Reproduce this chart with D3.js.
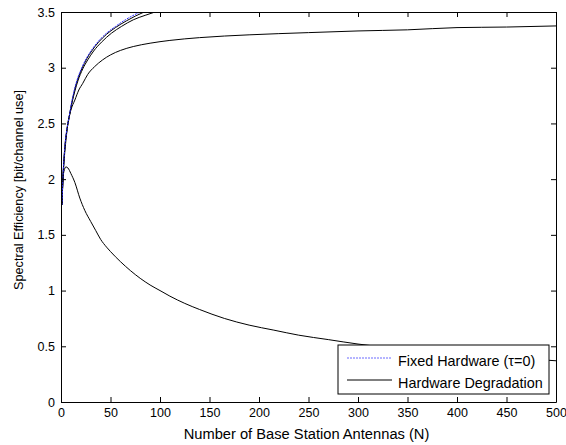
<!DOCTYPE html>
<html>
<head>
<meta charset="utf-8">
<script src="https://cdn.jsdelivr.net/npm/d3@7"></script>
<style>
  body { margin: 0; background: #fff; }
  text { font-family: "Liberation Sans", Arial, sans-serif; }
</style>
</head>
<body>
<div id="chart"></div>
<script>
// values
var xTicks = [0, 50, 100, 150, 200, 250, 300, 350, 400, 450, 500];
var yTicks = [0, 0.5, 1, 1.5, 2, 2.5, 3, 3.5];

// fixed hardware (tau = 0)
var fixedN =   [1, 2, 3, 4, 6, 8, 11, 14, 17, 21, 26, 31, 38, 46, 55, 65, 80, 100, 130];
var fixedSE =  [1.77, 2.02, 2.18, 2.3, 2.45, 2.55, 2.7, 2.82, 2.91, 3.0, 3.09, 3.16, 3.24, 3.31, 3.37, 3.43, 3.5, 3.57, 3.66];

// hardware degradation, several settings
var deg1N =  [1, 2, 3, 4, 6, 8, 11, 14, 17, 21, 26, 31, 38, 46, 55, 66, 84, 105, 130];
var deg1SE = [1.77, 2.02, 2.18, 2.3, 2.45, 2.55, 2.69, 2.81, 2.9, 2.99, 3.08, 3.15, 3.23, 3.3, 3.36, 3.42, 3.5, 3.56, 3.62];

var deg2N =  [1, 2, 3, 4, 6, 8, 11, 14, 17, 22, 27, 33, 41, 51, 61, 73, 85, 95, 120];
var deg2SE = [1.77, 2.02, 2.17, 2.29, 2.44, 2.54, 2.68, 2.79, 2.88, 2.99, 3.07, 3.15, 3.23, 3.31, 3.37, 3.43, 3.47, 3.5, 3.56];

var deg3N =  [1, 2, 3, 4, 5, 7, 10, 14, 18, 22, 27, 34, 42, 50, 60, 73, 90, 110, 140, 190, 250, 300, 350, 400, 450, 500];
var deg3SE = [1.77, 2.0, 2.15, 2.26, 2.35, 2.5, 2.62, 2.71, 2.8, 2.86, 2.94, 3.01, 3.07, 3.115, 3.155, 3.19, 3.22, 3.245, 3.27, 3.295, 3.315, 3.33, 3.34, 3.36, 3.365, 3.375];

var deg4N =  [1, 2, 3, 5, 7, 10, 14, 19, 24, 30, 35, 40, 46, 50, 60, 70, 80, 90, 100, 110, 125, 140, 165, 190, 215, 240, 270, 300, 350, 400, 450, 500];
var deg4SE = [1.77, 2.0, 2.07, 2.11, 2.1, 2.05, 1.97, 1.83, 1.72, 1.62, 1.54, 1.46, 1.39, 1.35, 1.26, 1.18, 1.11, 1.05, 1.0, 0.95, 0.885, 0.83, 0.75, 0.69, 0.645, 0.6, 0.56, 0.52, 0.47, 0.43, 0.4, 0.37];

var legendLabels = ["Fixed Hardware (\u03c4=0)", "Hardware Degradation"];

var margin = { top: 12, right: 10, bottom: 43, left: 61 },
  width = 566 - margin.left - margin.right,
  height = 445 - margin.top - margin.bottom;

var svg = d3.select("#chart")
  .append("svg")
  .attr("width", 566)
  .attr("height", 445)
  .append("g")
  .attr("transform", "translate(" + margin.left + "," + margin.top + ")");

var x = d3.scaleLinear().domain([0, 500]).range([0, width]);
var y = d3.scaleLinear().domain([0, 3.5]).range([height, 0]);

svg.append("defs").append("clipPath").attr("id", "clip")
  .append("rect").attr("width", width).attr("height", height);

function zip(ns, vs) {
  return ns.map(function (n, i) { return [n, vs[i]]; });
}

var line = d3.line()
  .x(function (d) { return x(d[0]); })
  .y(function (d) { return y(d[1]); })
  .curve(d3.curveMonotoneX);

var curves = svg.append("g").attr("clip-path", "url(#clip)");

[deg1N, deg2N, deg3N, deg4N].forEach(function (ns, i) {
  var vs = [deg1SE, deg2SE, deg3SE, deg4SE][i];
  curves.append("path")
    .datum(zip(ns, vs))
    .attr("d", line)
    .attr("fill", "none")
    .attr("stroke", "#000")
    .attr("stroke-width", 1);
});

curves.append("path")
  .datum(zip(fixedN, fixedSE))
  .attr("d", line)
  .attr("fill", "none")
  .attr("stroke", "#2a2aff")
  .attr("stroke-width", 1)
  .attr("stroke-dasharray", "2,1");

// axes, matlab style: ticks inward on all four sides
function styleAxis(g) {
  g.selectAll(".domain").attr("stroke", "#000");
  g.selectAll(".tick line").attr("stroke", "#000");
  g.selectAll("text").attr("font-size", "12.5px").attr("fill", "#000")
    .attr("font-family", "'Liberation Sans', Arial, sans-serif");
}

svg.append("g")
  .attr("transform", "translate(0," + height + ")")
  .call(d3.axisBottom(x).tickValues(xTicks).tickSizeInner(-5).tickSizeOuter(0).tickPadding(6)
    .tickFormat(function (d) { return d; }))
  .call(styleAxis);

svg.append("g")
  .call(d3.axisTop(x).tickValues(xTicks).tickSizeInner(-5).tickSizeOuter(0).tickFormat(""))
  .call(styleAxis);

svg.append("g")
  .call(d3.axisLeft(y).tickValues(yTicks).tickSizeInner(-5).tickSizeOuter(0).tickPadding(6)
    .tickFormat(function (d) { return d; }))
  .call(styleAxis);

svg.append("g")
  .attr("transform", "translate(" + width + ",0)")
  .call(d3.axisRight(y).tickValues(yTicks).tickSizeInner(-5).tickSizeOuter(0).tickFormat(""))
  .call(styleAxis);

// axis titles
svg.append("text")
  .attr("x", 245.5)
  .attr("y", height + 37)
  .attr("text-anchor", "middle")
  .attr("font-size", "14.7px")
  .text("Number of Base Station Antennas (N)");

svg.append("text")
  .attr("transform", "translate(" + (23 - margin.left) + "," + 178 + ") rotate(-90)")
  .attr("text-anchor", "middle")
  .attr("font-size", "12.7px")
  .text("Spectral Efficiency [bit/channel use]");

// legend
var lg = svg.append("g").attr("transform", "translate(" + (338 - margin.left) + "," + (345 - margin.top) + ")");
lg.append("rect")
  .attr("width", 211)
  .attr("height", 49)
  .attr("fill", "#fff")
  .attr("stroke", "#000");

legendLabels.forEach(function (lab, i) {
  var cy = 13 + i * 22;
  lg.append("line")
    .attr("x1", 9).attr("x2", 54)
    .attr("y1", cy).attr("y2", cy)
    .attr("stroke", i == 0 ? "#6a6aff" : "#000")
    .attr("stroke-dasharray", i == 0 ? "2,1" : null);
  lg.append("text")
    .attr("x", 60)
    .attr("y", cy + 8.3)
    .attr("font-size", "14.4px")
    .text(lab);
});
</script>
</body>
</html>
